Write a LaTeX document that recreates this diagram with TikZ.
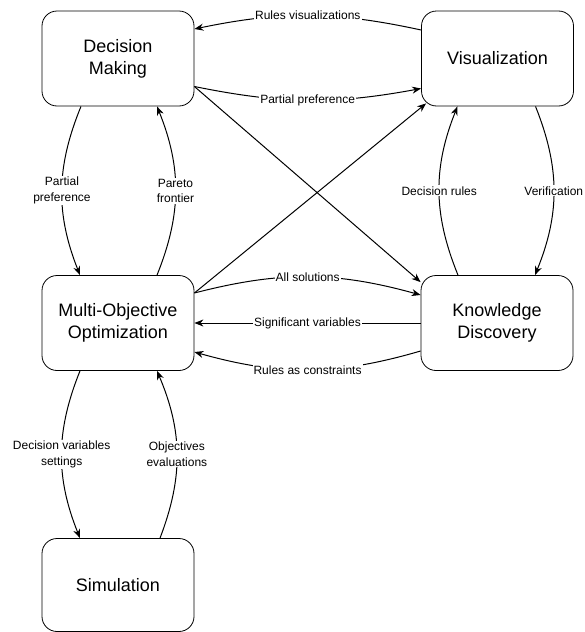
\documentclass[tikz,border=0pt]{standalone}
\usepackage{fontspec}
\setmainfont{Liberation Sans}
\usetikzlibrary{arrows.meta}
\begin{document}
\begin{tikzpicture}[x=1pt,y=1pt,
 box/.style={draw, rounded corners=15pt, minimum width=152pt, minimum height=95pt, align=center, font=\fontsize{18}{22}\selectfont, line width=0.8pt, inner sep=0pt},
 conn/.style={line width=1pt, -{Stealth[length=9pt,width=7pt]}},
 lbl/.style={fill=white, inner sep=1pt, align=center, font=\fontsize{12}{15.5}\selectfont}]
\useasboundingbox (0,0) rectangle (585,-632);
\node[box] (dm) at (118,-58.5) {Decision\\Making};
\node[box] (vis) at (497.5,-58.5) {Visualization};
\node[box] (moo) at (118,-323) {Multi-Objective\\Optimization};
\node[box] (kd) at (497,-323) {Knowledge\\Discovery};
\node[box, minimum height=93pt] (sim) at (118,-585) {Simulation};

\draw[conn] ([yshift=28.5pt]vis.west) to[bend right=12] node[lbl]{Rules visualizations} ([yshift=29.5pt]dm.east);
\draw[conn] ([yshift=-28pt]dm.east) to[bend right=11] node[lbl]{Partial preference} ([yshift=-30pt]vis.west);
\draw[conn] ([yshift=-28pt]dm.east) -- ([yshift=-7pt]kd.north west);
\draw[conn] ([yshift=30pt]moo.east) -- ([xshift=5pt,yshift=3pt]vis.south west);
\draw[conn] ([yshift=30pt]moo.east) to[bend left=15] node[lbl]{All solutions} ([yshift=28pt]kd.west);
\draw[conn] (kd.west) -- node[lbl]{Significant variables} (moo.east);
\draw[conn] ([yshift=-28pt]kd.west) to[bend left=16] node[lbl]{Rules as constraints} ([yshift=-29pt]moo.east);
\draw[conn] ([xshift=-37pt]dm.south) to[bend right=22] node[lbl]{Partial\\preference} ([xshift=-38pt]moo.north);
\draw[conn] ([xshift=39pt]moo.north) to[bend right=22] node[lbl]{Pareto\\frontier} ([xshift=39pt]dm.south);
\draw[conn] ([xshift=38pt]vis.south) to[bend left=22] node[lbl]{Verification} ([xshift=38pt]kd.north);
\draw[conn] ([xshift=-39pt]kd.north) to[bend left=22] node[lbl]{Decision rules} ([xshift=-40pt]vis.south);
\draw[conn] ([xshift=-38pt]moo.south) to[bend right=22] node[lbl]{Decision variables\\settings} ([xshift=-38pt]sim.north);
\draw[conn] ([xshift=42pt]sim.north) to[bend right=22] node[lbl]{Objectives\\evaluations} ([xshift=39pt]moo.south);
\end{tikzpicture}
\end{document}
